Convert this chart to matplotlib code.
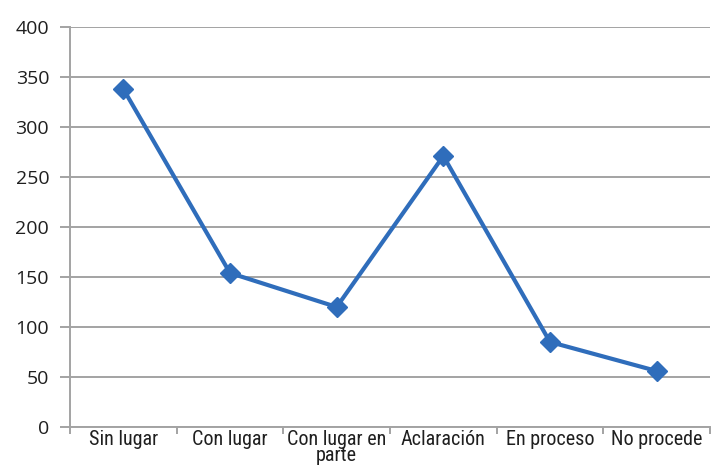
import matplotlib
matplotlib.use("Agg")
import matplotlib.pyplot as plt
from matplotlib import font_manager

categories = ["Sin lugar", "Con lugar", "Con lugar en\nparte", "Aclaración", "En proceso", "No procede"]
values = [338, 154, 120, 271, 85, 56]
yticks = [0, 50, 100, 150, 200, 250, 300, 350, 400]

# find a condensed/narrow font if available
cands = []
for f in font_manager.fontManager.ttflist:
    st = str(f.stretch).lower()
    if ("narrow" in f.name.lower() or "condensed" in f.name.lower() or st in ("condensed", "semi-condensed", "extra-condensed")) and f.style == "normal" and f.weight in (400, "normal", "regular"):
        cands.append(f)
if cands:
    pref = sorted(cands, key=lambda f: (0 if "Liberation" in f.name else 1 if "Roboto" in f.name else 2 if "Noto" in f.name else 3))
    xprop = font_manager.FontProperties(fname=pref[0].fname, size=14.5)
else:
    xprop = font_manager.FontProperties(family="DejaVu Sans", size=12)

fig = plt.figure(figsize=(7.11, 4.67), dpi=100)
ax = fig.add_axes([70/711, 40/467, 640/711, 400/467])

x = list(range(len(categories)))
ax.plot(x, values, color="#2f6dbb", lw=3, marker="D", ms=10.5, mec="#2f6dbb", mfc="#2f6dbb", zorder=3)

ax.set_xlim(-0.5, len(categories) - 0.5)
ax.set_ylim(0, 400)
ax.set_yticks(yticks)
ax.set_yticklabels([str(v) for v in yticks], fontsize=14, color="#1f1f1f", family="Open Sans")
ax.yaxis.grid(True, color="#a3a3a3", lw=1.4)
ax.set_axisbelow(True)
ax.tick_params(axis="y", length=7, width=1.4, color="#a3a3a3", pad=8)

ax.set_xticks([i - 0.5 for i in range(len(categories) + 1)])
ax.set_xticklabels([])
ax.set_xticks(x, minor=True)
ax.set_xticklabels(categories, minor=True, fontproperties=xprop, color="#1f1f1f", linespacing=0.8)
ax.tick_params(axis="x", which="major", length=5, width=1.4, color="#a3a3a3")
ax.tick_params(axis="x", which="minor", length=0, pad=2)

for s in ["top", "right"]:
    ax.spines[s].set_visible(False)
for s in ["left", "bottom"]:
    ax.spines[s].set_color("#a3a3a3")
    ax.spines[s].set_linewidth(1.4)

fig.savefig("out.png", dpi=100)
